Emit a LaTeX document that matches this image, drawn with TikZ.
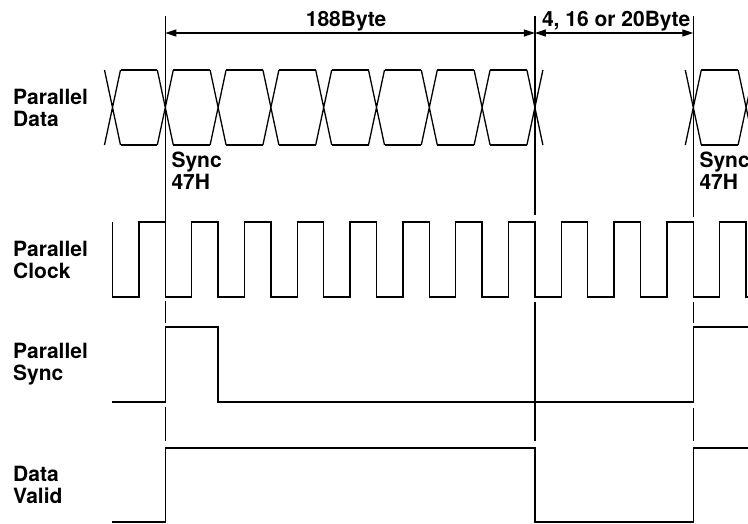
\documentclass[tikz,border=0pt]{standalone}
\usepackage{fontspec}
\setmainfont{TeX Gyre Heros}
\usetikzlibrary{arrows.meta, calc}

\begin{document}
\begin{tikzpicture}[x=1pt, y=-1pt,
    wave/.style={line width=1.3pt, line join=miter},
    guide/.style={line width=1.3pt},
    span/.style={{Triangle[length=11pt,width=7pt]}-{Triangle[length=11pt,width=7pt]}, line width=1.2pt},
    sigtext/.style={anchor=west, align=left, inner sep=0pt, font=\fontsize{21}{22}\selectfont\bfseries},
    spantext/.style={anchor=base, inner sep=0pt, yshift=6pt, font=\fontsize{21}{22}\selectfont\bfseries}
]
\useasboundingbox (0,0) rectangle (748,524);
\clip (0,0) rectangle (748,524);

% one time mark per byte
\foreach \k in {0,...,12}
  \coordinate (t\k) at ({112.5+\k*52.8},0);
\coordinate (start) at (112,0);
\coordinate (stop) at (760,0);

% signal names
\node (dataname)  [sigtext] at (13,107.5) {Parallel\\Data};
\node (clockname) [sigtext] at (13,259.5) {Parallel\\Clock};
\node (syncname)  [sigtext] at (13,364.5) {Parallel\\Sync};
\node (validname) [sigtext] at (13,485)   {Data\\Valid};

% Parallel Data
\foreach \k in {0,...,8,11,12}
  \draw[wave] ($(t\k)+(-8,70)$) -- ($(t\k)+(8,145)$) ($(t\k)+(-8,145)$) -- ($(t\k)+(8,70)$);
\foreach \k in {0,...,7,11} {
  \pgfmathtruncatemacro\n{\k+1}
  \draw[wave] ($(t\k)+(8,70)$) -- ($(t\n)+(-8,70)$) ($(t\k)+(8,145)$) -- ($(t\n)+(-8,145)$);
}
\node (syncA) [sigtext, anchor=north west] at ($(t1)+(6,151.5)$) {Sync\\47H};
\node (syncB) [sigtext, anchor=north west] at ($(t11)+(6,151.5)$) {Sync\\47H};

% Parallel Clock
\draw[wave] ($(t0)+(0,222)$) -- ($(t0)+(0,297)$)
  \foreach \k [evaluate=\k as \n using int(\k+1)] in {0,...,11} {
    -- ($(t\k)+(26.4,297)$) -- ($(t\k)+(26.4,222)$) -- ($(t\n)+(0,222)$) -- ($(t\n)+(0,297)$)
  } -- ($(t12)+(26.4,297)$);

% Parallel Sync
\draw[wave] ($(start)+(0,402)$) -- ($(t1)+(0,402)$) -- ($(t1)+(0,327)$) -- ($(t2)+(0,327)$)
  -- ($(t2)+(0,402)$) -- ($(t11)+(0,402)$) -- ($(t11)+(0,327)$) -- ($(stop)+(0,327)$);

% Data Valid
\draw[wave] ($(start)+(0,522)$) -- ($(t1)+(0,522)$) -- ($(t1)+(0,448)$) -- ($(t8)+(0,448)$)
  -- ($(t8)+(0,522)$) -- ($(t11)+(0,522)$) -- ($(t11)+(0,448)$) -- ($(stop)+(0,448)$);

% guide lines
\draw[guide] ($(t1)+(0,16)$) -- ($(t1)+(0,222)$)
  ($(t1)+(0,301)$) -- ($(t1)+(0,323)$)
  ($(t1)+(0,407)$) -- ($(t1)+(0,441)$);
\draw[guide] ($(t8)+(0,16)$) -- ($(t8)+(0,215)$)
  ($(t8)+(0,302)$) -- ($(t8)+(0,441)$);
\draw[guide] ($(t11)+(0,16)$) -- ($(t11)+(0,217)$)
  ($(t11)+(0,302)$) -- ($(t11)+(0,323)$)
  ($(t11)+(0,408)$) -- ($(t11)+(0,441)$);

% byte counts
\draw[span] ($(t1)+(0,33)$) -- ($(t8)+(0,33)$) node (packet) [spantext, midway, xshift=-4pt] {188Byte};
\draw[span] ($(t8)+(0,33)$) -- ($(t11)+(0,33)$) node (gap) [spantext, midway, xshift=2pt] {4, 16 or 20Byte};

\end{tikzpicture}
\end{document}
